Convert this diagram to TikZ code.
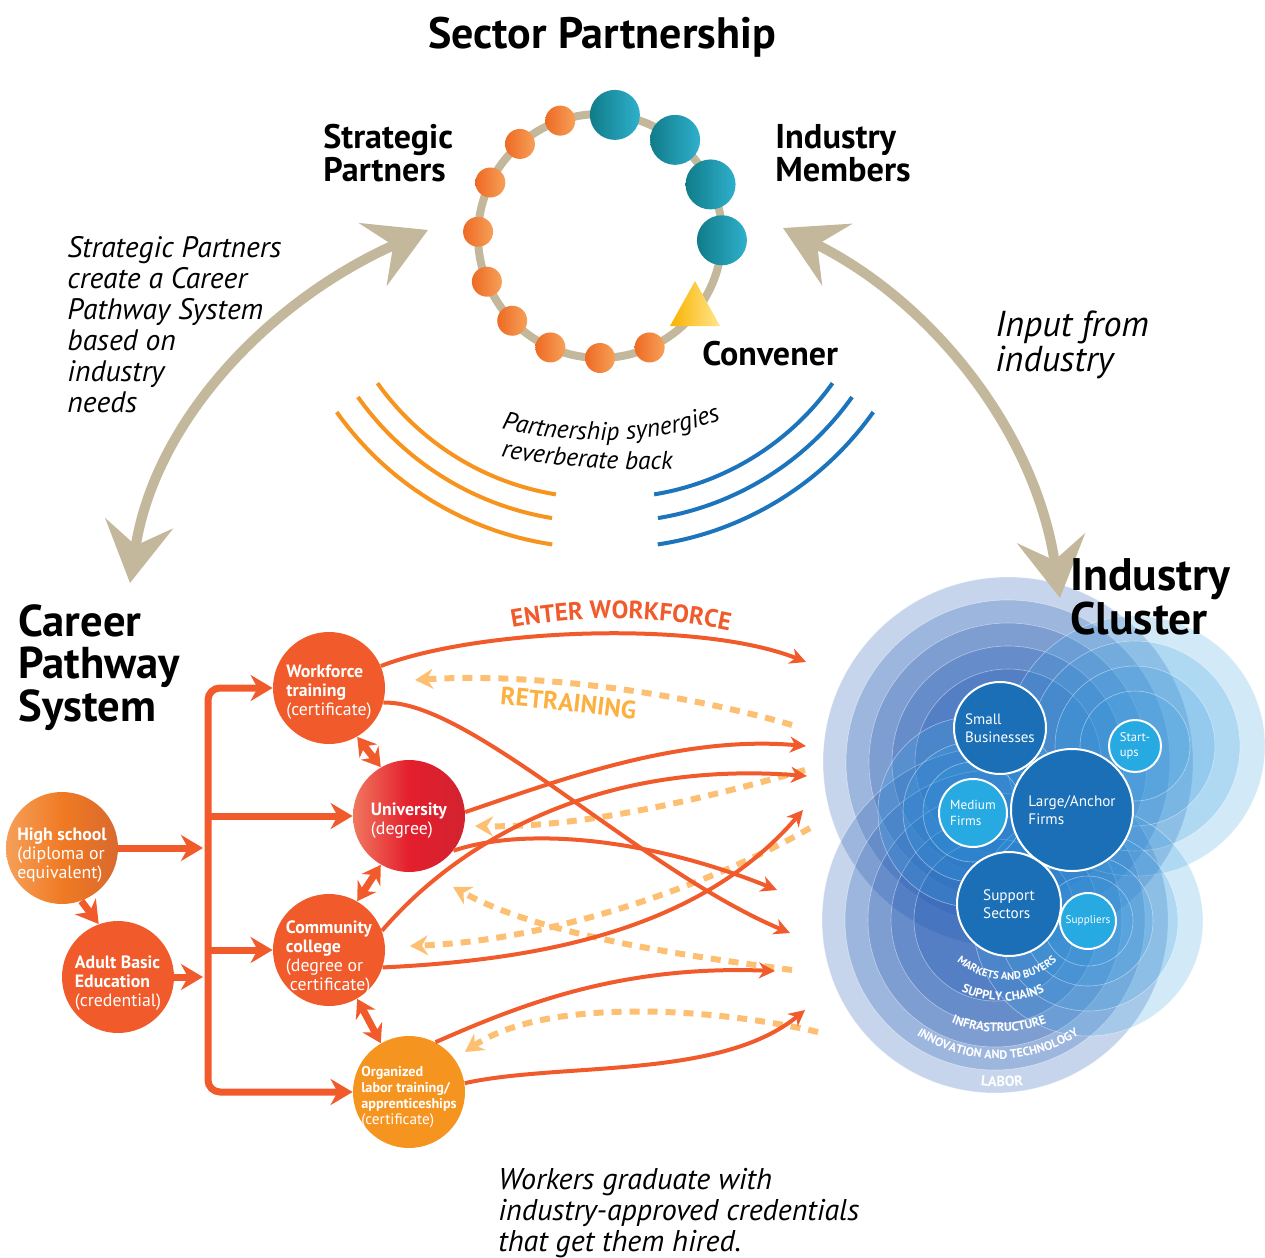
\documentclass[tikz,border=0pt]{standalone}
\usepackage{fontspec}
\setmainfont{PT Sans}
\usetikzlibrary{arrows.meta,decorations.text,calc}
\definecolor{tanc}{RGB}{196,184,156}
\definecolor{org}{RGB}{241,90,43}
\definecolor{orgY}{RGB}{246,148,32}
\definecolor{retr}{RGB}{253,192,115}
\definecolor{retrtxt}{RGB}{251,176,64}
\definecolor{arcO}{RGB}{247,148,30}
\definecolor{arcB}{RGB}{28,117,188}
\definecolor{blobA}{RGB}{32,88,178}
\definecolor{blobC}{RGB}{50,155,222}
\definecolor{dkb}{RGB}{26,111,182}
\definecolor{ltb}{RGB}{39,169,225}
\definecolor{dotO1}{RGB}{238,106,36}
\definecolor{dotO2}{RGB}{246,160,88}
\definecolor{dotB1}{RGB}{16,124,137}
\definecolor{dotB2}{RGB}{47,176,204}
\definecolor{triY1}{RGB}{249,178,0}
\definecolor{triY2}{RGB}{255,230,140}
\definecolor{hs1}{RGB}{245,160,90}
\definecolor{hs2}{RGB}{240,122,35}
\definecolor{hs3}{RGB}{217,105,46}
\definecolor{un1}{RGB}{240,120,94}
\definecolor{un2}{RGB}{228,30,45}
\definecolor{un3}{RGB}{210,35,48}
\begin{document}
\begin{tikzpicture}[x=0.5pt,y=-0.5pt,
  tanarrow/.style={draw=tanc, line width=5pt, {Stealth[length=30pt,width=34pt,inset=11pt]}-{Stealth[length=30pt,width=34pt,inset=11pt]}},
  brk/.style={draw=org, line width=3.5pt},
  brktip/.style={-{Stealth[length=11pt,width=13pt,inset=3.5pt]}},
  brkboth/.style={{Stealth[length=11pt,width=13pt,inset=3.5pt]}-{Stealth[length=11pt,width=13pt,inset=3.5pt]}},
  dbl/.style={draw=org, line width=3.5pt, {Stealth[length=9pt,width=11pt,inset=3pt]}-{Stealth[length=9pt,width=11pt,inset=3pt]}},
  outarrow/.style={draw=org, line width=2pt, -{Stealth[length=8pt,width=8pt,inset=2.5pt]}},
  retarrow/.style={draw=retr, line width=3pt, dash pattern=on 5pt off 4pt, -{Stealth[length=9pt,width=10pt,inset=3pt]}},
  pcirc/.style={circle, minimum size=56pt, inner sep=0pt},
  ptext/.style={inner sep=0pt, text=white, align=left, font=\fontsize{8.9}{9.5}\selectfont},
  odot/.style={circle, minimum size=15pt, inner sep=0pt, left color=dotO1, right color=dotO2},
  bdot/.style={circle, minimum size=25pt, inner sep=0pt, left color=dotB1, right color=dotB2},
  inbig/.style={circle, draw=white, line width=1pt, fill=dkb, inner sep=0pt, text=white, align=left},
  insmall/.style={circle, draw=white, line width=1pt, fill=ltb, inner sep=0pt, text=white, align=left},
  arcOr/.style={draw=arcO, line width=2pt},
  arcBl/.style={draw=arcB, line width=2pt},
  headtxt/.style={anchor=north west, align=left, inner sep=0pt},
  ringline/.style={white, line width=0.3pt, opacity=0.45},
]
\useasboundingbox (0,0) rectangle (1265,1258);

% ---------------- industry cluster blob ----------------
\foreach \rr in {185,162,139,116,93}{
  \fill[blobA, fill opacity=0.25] (1008,762) circle (\rr);
  \draw[ringline] (1008,762) circle (\rr);}
\foreach \rr in {173,150,127,104,81}{
  \fill[blobA, fill opacity=0.25] (995,920) circle (\rr);
  \draw[ringline] (995,920) circle (\rr);}
\foreach \rr in {130,105,80,55}{
  \fill[blobC, fill opacity=0.22] (1135,746) circle (\rr);
  \draw[ringline] (1135,746) circle (\rr);}
\foreach \rr in {115,90,65,45}{
  \fill[blobC, fill opacity=0.22] (1088,921) circle (\rr);
  \draw[ringline] (1088,921) circle (\rr);}
\foreach \rr in {95,70,50}{
  \fill[blobC, fill opacity=0.25] (973,812) circle (\rr);
  \draw[ringline] (973,812) circle (\rr);}

\node[inbig, minimum size=46pt, font=\fontsize{7.5}{8.8}\selectfont] (small) at (1000,728) {Small\\Businesses};
\node[inbig, minimum size=61pt, font=\fontsize{7.6}{8.8}\selectfont] (large) at (1072,810) {Large/Anchor\\Firms};
\node[insmall, minimum size=26pt, font=\fontsize{6.3}{7.5}\selectfont] (startups) at (1135,746) {Start-\\ups};
\node[insmall, minimum size=34pt, font=\fontsize{6.6}{7.8}\selectfont] (medium) at (973,813) {Medium\\Firms};
\node[inbig, minimum size=52pt, font=\fontsize{7.6}{8.8}\selectfont] (support) at (1009,904) {Support\\Sectors};
\node[insmall, minimum size=28pt, font=\fontsize{5.6}{6.5}\selectfont] (suppliers) at (1088,921) {Suppliers};

\path[decorate, decoration={text along path, text align=center, text color=white,
  text={|\bfseries\fontsize{5.4}{6}\selectfont|MARKETS AND BUYERS}}]
  plot[domain=150:30, samples=40] ({1007+76*cos(\x)},{904+76*sin(\x)});
\path[decorate, decoration={text along path, text align=center, text color=white,
  text={|\bfseries\fontsize{6.2}{7}\selectfont|SUPPLY CHAINS}}]
  plot[domain=130:50, samples=40] ({1003+99*cos(\x)},{902+99*sin(\x)});
\path[decorate, decoration={text along path, text align=center, text color=white,
  text={|\bfseries\fontsize{6.2}{7}\selectfont|INFRASTRUCTURE}}]
  plot[domain=125:55, samples=40] ({999+127*cos(\x)},{905+127*sin(\x)});
\path[decorate, decoration={text along path, text align=center, text color=white,
  text={|\bfseries\fontsize{6.1}{7}\selectfont|INNOVATION AND TECHNOLOGY}}]
  plot[domain=145:35, samples=50] ({998+150*cos(\x)},{909+150*sin(\x)});
\path[decorate, decoration={text along path, text align=center, text color=white,
  text={|\bfseries\fontsize{7.2}{8}\selectfont|LABOR}}]
  plot[domain=110:70, samples=20] ({1002+180*cos(\x)},{907+180*sin(\x)});

% ---------------- reverberation arcs ----------------
\draw[arcOr] plot[domain=144.6:99.3, samples=40] ({600+273*cos(\x)},{225+273*sin(\x)});
\draw[arcOr] plot[domain=144.6:99.3, samples=40] ({600+297*cos(\x)},{225+297*sin(\x)});
\draw[arcOr] plot[domain=144.6:98.5, samples=40] ({600+323*cos(\x)},{225+323*sin(\x)});
\draw[arcBl] plot[domain=35.4:80.7, samples=40] ({610+273*cos(\x)},{225+273*sin(\x)});
\draw[arcBl] plot[domain=35.4:80.7, samples=40] ({610+297*cos(\x)},{225+297*sin(\x)});
\draw[arcBl] plot[domain=35.4:81.5, samples=40] ({610+323*cos(\x)},{225+323*sin(\x)});

\path[decorate, decoration={text along path, text align=center,
  text={|\itshape\fontsize{12.8}{14}\selectfont|Partnership synergies}}]
  (494,426) .. controls (560,446) and (660,446) .. (728,417);
\path[decorate, decoration={text along path, text align=center,
  text={|\itshape\fontsize{12.8}{14}\selectfont|reverberate back}}]
  (492,455) .. controls (550,467) and (620,472) .. (682,468);

% ---------------- sector partnership ring ----------------
\node[font=\bfseries\fontsize{22}{26}\selectfont, anchor=base] (title) at (602,48) {Sector Partnership};
\coordinate (rc) at (600,236);
\draw[tanc, line width=4pt] (rc) circle (122);
\foreach \a [count=\i] in {251,229,206,182,158,136,114,90,66}
  \node[odot] (sp\i) at ($(rc)+(\a:122)$) {};
\foreach \a [count=\i] in {-83,-52,-25,2}
  \node[bdot] (im\i) at ($(rc)+(\a:122)$) {};
\shade[left color=triY1, right color=triY2] (670,326) -- (720,326) -- (695,281) -- cycle;

\node[headtxt, font=\bfseries\fontsize{17}{16.5}\selectfont] (stratp) at (323,124) {Strategic\\Partners};
\node[headtxt, font=\bfseries\fontsize{17.2}{16.5}\selectfont] (indm) at (775,124) {Industry\\Members};
\node[headtxt, font=\bfseries\fontsize{17}{16.5}\selectfont] (conv) at (702,341) {Convener};

\node[headtxt, font=\itshape\fontsize{14.8}{15.5}\selectfont] (sptext) at (67,236) {Strategic Partners\\create a Career\\Pathway System\\based on\\industry\\needs};
\node[headtxt, font=\itshape\fontsize{18}{17.5}\selectfont] (inptext) at (995,310) {Input from\\industry};

% ---------------- big tan arrows ----------------
\coordinate (tl1) at (130,583); \coordinate (tl2) at (428,230);
\coordinate (tr1) at (1060,598); \coordinate (tr2) at (783,228);
\draw[tanarrow] (tl1) .. controls (155,420) and (270,300) .. (tl2);
\draw[tanarrow] (tr1) .. controls (1035,430) and (930,300) .. (tr2);

\node[headtxt, font=\bfseries\fontsize{22.3}{21.3}\selectfont] (cps) at (18,604) {Career\\Pathway\\System};
\node[headtxt, font=\bfseries\fontsize{22.8}{20}\selectfont] (icl) at (1070,558) {Industry\\Cluster};

% ---------------- career pathway nodes ----------------
\node[pcirc, left color=hs1, right color=hs3, middle color=hs2] (hs) at (62,848) {};
\node[pcirc, fill=org] (abe) at (118,977) {};
\node[pcirc, fill=org] (wf) at (329,688) {};
\node[pcirc, left color=un1, right color=un3, middle color=un2] (univ) at (409,816) {};
\node[pcirc, fill=org] (cc) at (329,950) {};
\node[pcirc, fill=orgY] (olt) at (409,1092) {};

\node[ptext] (hst) at ([yshift=-3.5pt]hs.center) {\textbf{High school}\\(diploma or\\equivalent)};
\node[ptext] (abet) at ([yshift=-3pt]abe.center) {\textbf{Adult Basic}\\\textbf{Education}\\(credential)};
\node[ptext] (wft) at ([yshift=-2pt]wf.center) {\textbf{Workforce}\\\textbf{training}\\(certificate)};
\node[ptext] (univt) at ([yshift=-2.5pt]univ.center) {\textbf{University}\\(degree)};
\node[ptext] (cct) at ([yshift=-4pt]cc.center) {\textbf{Community}\\\textbf{college}\\(degree or\\\hspace*{2pt}certificate)};
\node[ptext, font=\fontsize{7.1}{8}\selectfont] (oltt) at ([yshift=-2.5pt]olt.center) {\textbf{Organized}\\\textbf{labor training/}\\\textbf{apprenticeships}\\{\fontsize{7.6}{9}\selectfont(certificate)}};

\coordinate (bt) at (208,688); \coordinate (bb) at (208,1092);
\coordinate (bu) at (208,816); \coordinate (bc) at (208,950);
\coordinate (bh) at (203,848); \coordinate (ba) at (203,977);
\draw[brk, brkboth, rounded corners=6pt] (wf.west) -- (bt) -- (bb) -- (olt.west);
\draw[brk, brktip] (bu) -- (univ.west);
\draw[brk, brktip] (bc) -- (cc.west);
\draw[brk, brktip] (hs.east) -- (bh);
\draw[brk, brktip] (abe.east) -- (ba);
\draw[brk, brktip] (hs.-70) -- (abe.110);
\draw[dbl] (wf.-60) -- (univ.120);
\draw[dbl] (univ.-120) -- (cc.60);
\draw[dbl] (cc.-60) -- (olt.120);

% ---------------- retraining (dashed) ----------------
\coordinate (r1) at (792,725); \coordinate (r1t) at (415,680);
\coordinate (r2) at (805,770); \coordinate (r2t) at (475,826);
\coordinate (r3) at (810,828); \coordinate (r3t) at (410,946);
\coordinate (r4) at (792,970); \coordinate (r4t) at (453,887);
\coordinate (r5) at (818,1032); \coordinate (r5t) at (465,1052);
\draw[retarrow] (r1) .. controls (690,695) and (540,672) .. (r1t);
\draw[retarrow] (r2) .. controls (700,800) and (580,828) .. (r2t);
\draw[retarrow] (r3) .. controls (720,880) and (560,940) .. (r3t);
\draw[retarrow] (r4) .. controls (680,955) and (540,935) .. (r4t);
\draw[retarrow] (r5) .. controls (700,1005) and (540,1000) .. (r5t);

% ---------------- enter workforce (solid) ----------------
\coordinate (e1) at (806,662); \coordinate (e2) at (790,933);
\coordinate (e3) at (806,746); \coordinate (e4) at (777,890);
\coordinate (e5) at (807,776); \coordinate (e6) at (803,810);
\coordinate (e7) at (775,971); \coordinate (e8) at (805,1010);
\draw[outarrow] (wf.23) .. controls (480,628) and (700,620) .. (e1);
\draw[outarrow] (wf.-15) .. controls (470,700) and (640,870) .. (e2);
\draw[outarrow] (univ.4) .. controls (560,780) and (680,735) .. (e3);
\draw[outarrow] (univ.-38) .. controls (520,828) and (640,835) .. (e4);
\draw[outarrow] (cc.20) .. controls (460,840) and (600,760) .. (e5);
\draw[outarrow] (cc.-18) .. controls (540,960) and (700,930) .. (e6);
\draw[outarrow] (olt.62) .. controls (520,1005) and (620,965) .. (e7);
\draw[outarrow] (olt.9) .. controls (560,1062) and (720,1080) .. (e8);

\path[decorate, decoration={text along path, text align=center, text color=org,
  text={|\bfseries\fontsize{12.5}{14}\selectfont|ENTER WORKFORCE}}]
  (506,629) .. controls (570,616) and (650,613) .. (736,632);
\path[decorate, decoration={text along path, text align=center, text color=retrtxt,
  text={|\bfseries\fontsize{12.6}{14}\selectfont|RETRAINING}}]
  (493,704) .. controls (540,708) and (590,713) .. (642,720);

\node[headtxt, font=\itshape\fontsize{15}{15.5}\selectfont] (grad) at (498,1168) {Workers graduate with\\industry-approved credentials\\that get them hired.};
\end{tikzpicture}
\end{document}
